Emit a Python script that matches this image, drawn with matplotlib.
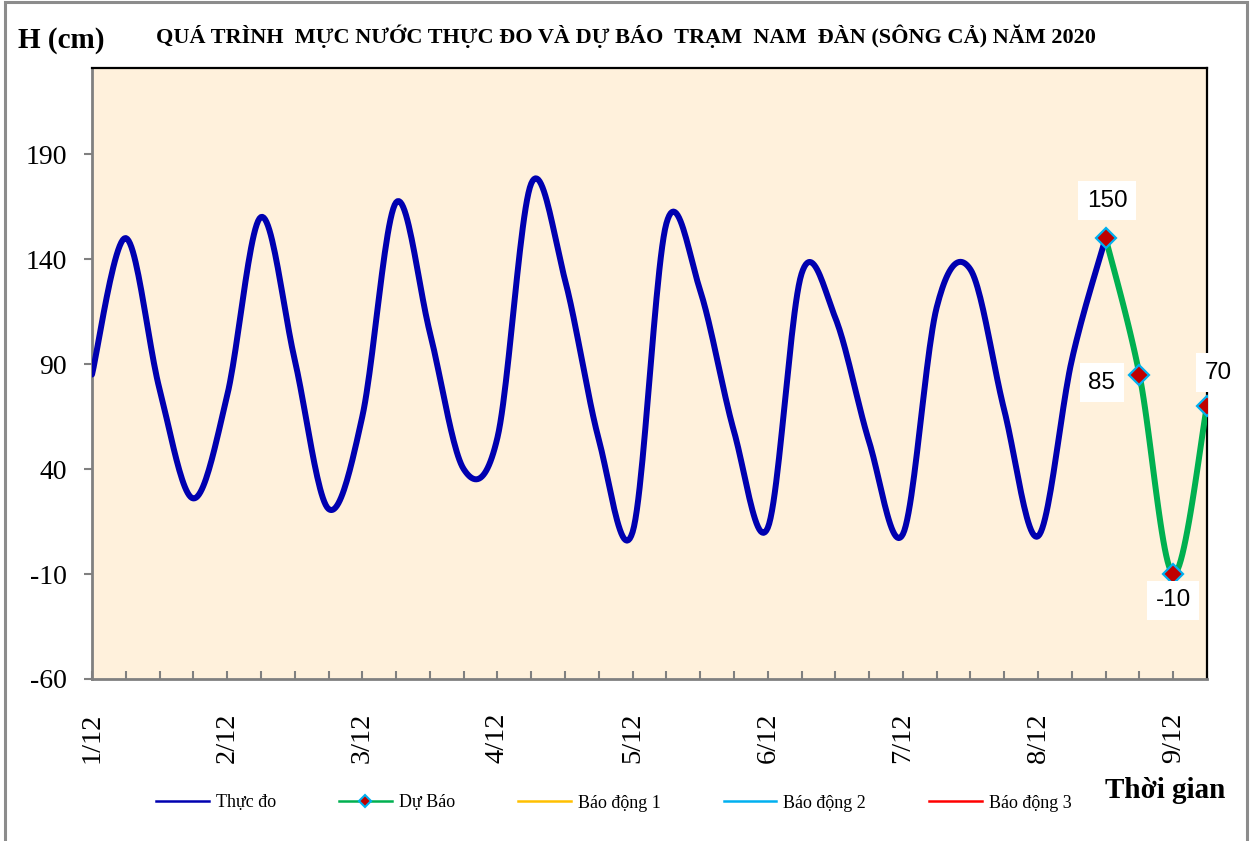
import numpy as np
import matplotlib
matplotlib.use("Agg")
import matplotlib.pyplot as plt
from matplotlib.lines import Line2D
from matplotlib.patches import Rectangle

########### Daten ##############
# Messwerte alle 6 Stunden, Index 0 = 1/12 00h
thuc_do = [85, 150, 78, 26, 75, 160, 92, 21, 65, 167, 105, 40, 55, 176, 130, 54,
           10, 157, 125, 58, 12, 133, 112, 53, 9, 117, 135, 68, 8, 92, 150]
du_bao = [150, 85, -10, 70]
du_bao_start = 30
ngay_labels = ['1/12', '2/12', '3/12', '4/12', '5/12', '6/12', '7/12', '8/12', '9/12']
y_ticks = [-60, -10, 40, 90, 140, 190]

serif = 'Liberation Serif'
sans = 'Liberation Sans'

c_blue = '#0000B0'
c_green = '#00B050'


def smooth(xs, ys, n=25):
    # Excel-artige geglaettete Linie (Bezier, Catmull-Rom)
    x = np.asarray(xs, float)
    y = np.asarray(ys, float)
    xp = np.concatenate([[x[0]], x, [x[-1]]])
    yp = np.concatenate([[y[0]], y, [y[-1]]])
    t = np.linspace(0, 1, n)[:, None]
    out = []
    for i in range(len(x) - 1):
        p0 = np.array([xp[i], yp[i]])
        p1 = np.array([xp[i + 1], yp[i + 1]])
        p2 = np.array([xp[i + 2], yp[i + 2]])
        p3 = np.array([xp[i + 3], yp[i + 3]])
        c1 = p1 + (p2 - p0) / 6
        c2 = p2 - (p3 - p1) / 6
        seg = ((1 - t) ** 3) * p1 + 3 * ((1 - t) ** 2) * t * c1 + 3 * (1 - t) * t ** 2 * c2 + t ** 3 * p2
        out.append(seg if i == 0 else seg[1:])
    out = np.vstack(out)
    return out[:, 0], out[:, 1]


fig = plt.figure(figsize=(12.53, 8.41), dpi=100)
ax = fig.add_axes([92 / 1253, 1 - 679 / 841, (1207 - 92) / 1253, (679 - 68) / 841])
ax.set_facecolor('#FFF1DC')

# Ausserer Rahmen
fig.patches.append(Rectangle((5 / 1253, -0.02), 1242 / 1253, 1.018, transform=fig.transFigure,
                             fill=False, edgecolor='#8C8C8C', linewidth=2.2, zorder=0))

x_obs = np.arange(len(thuc_do))
x_db = np.arange(du_bao_start, du_bao_start + len(du_bao))

sx, sy = smooth(x_obs, thuc_do)
ax.plot(sx, sy, color=c_blue, linewidth=4.3, solid_capstyle='round', zorder=3)
sx, sy = smooth(x_db, du_bao)
ax.plot(sx, sy, color=c_green, linewidth=4.3, solid_capstyle='round', zorder=3)
ax.plot(x_db, du_bao, linestyle='none', marker='D', markersize=10.5,
        markerfacecolor='#C00000', markeredgecolor='#00B0F0', markeredgewidth=1.6, zorder=4)

# Datenbeschriftungen
offsets = [(1, 27), (-27, -6), (0, -19), (8, 24)]
for xi, v, off in zip(x_db, du_bao, offsets):
    ax.annotate(str(v), (xi, v), xytext=off, textcoords='offset points',
                ha='center', va='center', fontsize=17.5, family=sans, zorder=6,
                bbox=dict(boxstyle='square,pad=0.35', facecolor='white', edgecolor='none'),
                annotation_clip=False)

ax.set_xlim(0, du_bao_start + len(du_bao) - 1)
ax.set_ylim(-60, 231)
ax.set_yticks(y_ticks)
ax.set_yticklabels([str(v) for v in y_ticks], fontsize=20, family=serif)
n_cat = du_bao_start + len(du_bao)
ax.set_xticks(np.arange(n_cat))
xl = [''] * n_cat
for k, lab in enumerate(ngay_labels):
    xl[k * 4] = lab
ax.set_xticklabels(xl, rotation=90, fontsize=20.5, family=serif, va='top')

ax.tick_params(axis='y', direction='out', length=6, width=1.5, color='#808080', pad=12)
ax.tick_params(axis='x', direction='in', length=5.5, width=1.5, color='#808080', pad=24)
for s in ['left', 'bottom']:
    ax.spines[s].set_color('#808080')
    ax.spines[s].set_linewidth(2)
for s in ['top', 'right']:
    ax.spines[s].set_color('black')
    ax.spines[s].set_linewidth(1.6)

# Texte
fig.text(18 / 1253, 1 - 40 / 841, 'H (cm)', fontsize=21, fontweight='bold', family=serif,
         ha='left', va='center')
fig.text(626 / 1253, 1 - 36 / 841,
         'QUÁ TRÌNH  MỰC NƯỚC THỰC ĐO VÀ DỰ BÁO  TRẠM  NAM  ĐÀN (SÔNG CẢ) NĂM 2020',
         fontsize=16, fontweight='bold', family=serif, ha='center', va='center')
fig.text(1165 / 1253, 1 - 790 / 841, 'Thời gian', fontsize=21, fontweight='bold', family=serif,
         ha='center', va='center')

# Legende
handles = [
    Line2D([], [], color=c_blue, linewidth=1.8),
    Line2D([], [], color=c_green, linewidth=1.8, marker='D', markersize=6,
           markerfacecolor='#C00000', markeredgecolor='#00B0F0', markeredgewidth=1.5),
    Line2D([], [], color='#FFC000', linewidth=1.8),
    Line2D([], [], color='#00B0F0', linewidth=1.8),
    Line2D([], [], color='#FF0000', linewidth=1.8),
]
labels = ['Thực đo', 'Dự Báo', 'Báo động 1', 'Báo động 2', 'Báo động 3']
fig.legend(handles, labels, loc='center', bbox_to_anchor=(614 / 1253, 1 - 803 / 841), ncol=5,
           frameon=False, prop={'family': serif, 'size': 13}, handlelength=2.9,
           columnspacing=3.5, handletextpad=0.4)

fig.savefig('out.png', dpi=100)
